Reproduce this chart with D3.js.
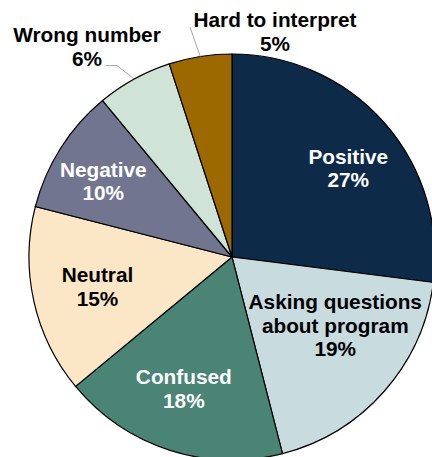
<!DOCTYPE html>
<html>
<head>
<meta charset="utf-8">
<script src="https://cdn.jsdelivr.net/npm/d3@7"></script>
<style>
  body { margin: 0; background: #fff; }
  text { font-family: "Liberation Sans", Arial, sans-serif; font-weight: bold; font-size: 20.8px; }
</style>
</head>
<body>
<svg width="432" height="457"></svg>
<script>
// data, clockwise from 12 o'clock
var categories = ["Positive", "Asking questions about program", "Confused", "Neutral", "Negative", "Wrong number", "Hard to interpret"];
var values = [27, 19, 18, 15, 10, 6, 5];
var labelLines = [["Positive"], ["Asking questions", "about program"], ["Confused"], ["Neutral"], ["Negative"], ["Wrong number"], ["Hard to interpret"]];
var colors = ["#0d2a49", "#c8dbdf", "#4a8475", "#fbe7c5", "#727590", "#cfe3d7", "#9c6900"];
var textColors = ["#fff", "#000", "#fff", "#000", "#fff", "#000", "#000"];

var svg = d3.select("svg");
var cx = 232, cy = 257, r = 203;
var lineH = 23.5;

// small shifts so labels sit where excel's "best fit" put them
var nudge = [[9, 6], [-4, -26], [-4, -4], [5, -1], [-8, 1]];

var g = svg.append("g").attr("transform", "translate(" + cx + "," + cy + ")");

var pie = d3.pie().sort(null).value(function(d) { return d; });
var arcs = pie(values);

var arc = d3.arc().innerRadius(0).outerRadius(r);

g.selectAll("path.slice")
  .data(arcs)
  .enter()
  .append("path")
  .attr("class", "slice")
  .attr("d", arc)
  .attr("fill", function(d, i) { return colors[i]; })
  .attr("stroke", "#000")
  .attr("stroke-width", 1.2);

var inside = d3.arc().innerRadius(0).outerRadius(2 * 143); // centroid at r=143

// inside labels
arcs.forEach(function(d, i) {
  if (values[i] < 8) return;
  var c = inside.centroid(d);
  var x = c[0] + nudge[i][0];
  var lines = labelLines[i].concat([values[i] + "%"]);
  var y0 = c[1] - (lines.length - 1) * lineH / 2 + 7 + nudge[i][1];
  var t = g.append("text")
    .attr("text-anchor", "middle")
    .attr("fill", textColors[i]);
  lines.forEach(function(s, k) {
    t.append("tspan").attr("x", x).attr("y", y0 + k * lineH).text(s);
  });
});

// outside labels with leader lines
var calloutPos = { 5: [87 - cx, 42 - cy], 6: [275 - cx, 27 - cy] }; // first baseline, centre x
var edge = d3.arc().innerRadius(0).outerRadius(2 * r);

arcs.forEach(function(d, i) {
  if (values[i] >= 8) return;
  var p = calloutPos[i];
  var t = g.append("text").attr("text-anchor", "middle").attr("fill", "#000");
  t.append("tspan").attr("x", p[0]).attr("y", p[1]).text(labelLines[i][0]);
  t.append("tspan").attr("x", p[0]).attr("y", p[1] + lineH).text(values[i] + "%");

  var e = edge.centroid(d);
  var pts;
  if (i == 5) {
    pts = [[p[0] + 19, p[1] + lineH], [p[0] + 30, p[1] + lineH], e];
  } else {
    pts = [[p[0] - 85, p[1]], e];
  }
  g.append("path")
    .attr("d", d3.line()(pts))
    .attr("fill", "none")
    .attr("stroke", "#a6a6a6")
    .attr("stroke-width", 1);
});
</script>
</body>
</html>
